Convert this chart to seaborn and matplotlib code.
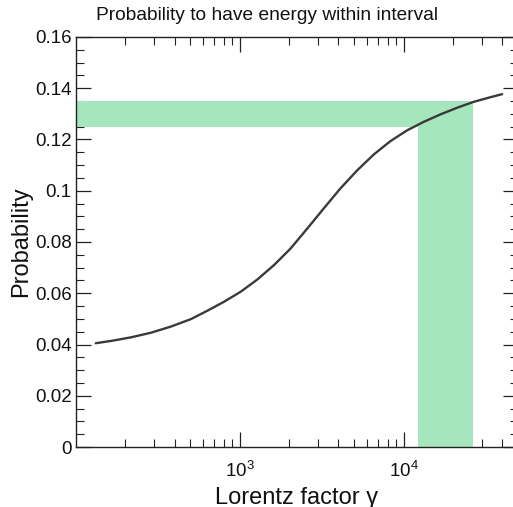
import numpy as np
import pandas as pd
import matplotlib
matplotlib.use("Agg")
import matplotlib.pyplot as plt
import seaborn as sns
from matplotlib.ticker import FixedLocator, MultipleLocator, LogLocator, NullFormatter

# ---- data ----
gamma = [132, 164, 217, 287, 380, 503, 635, 802, 1014, 1282, 1619, 2046,
         2587, 3266, 4129, 5220, 6592, 8331, 10534, 13300, 16810, 21260,
         26840, 33930, 39980]
prob = [0.0405, 0.0414, 0.0428, 0.0446, 0.0470, 0.0499, 0.0532, 0.0567,
        0.0606, 0.0654, 0.0710, 0.0775, 0.0853, 0.0932, 0.1010, 0.1080,
        0.1142, 0.1194, 0.1236, 0.1269, 0.1298, 0.1324, 0.1347, 0.1365,
        0.1377]
interval_gamma = [12200, 26500]      # vertical band (x range)
interval_prob = [0.125, 0.135]       # horizontal band (y range)
x_major = [1e3, 1e4]
x_major_labels = ["$10^{3}$", "$10^{4}$"]
y_major = [0, 0.02, 0.04, 0.06, 0.08, 0.1, 0.12, 0.14, 0.16]
y_major_labels = ["0", "0.02", "0.04", "0.06", "0.08", "0.1", "0.12", "0.14", "0.16"]

sns.set_theme(style="ticks")
plt.rcParams["font.family"] = ["Liberation Sans", "DejaVu Sans"]
plt.rcParams["mathtext.default"] = "regular"

fig = plt.figure(figsize=(5.13, 5.07), dpi=100)
fig.patch.set_facecolor("white")
ax = fig.add_axes([76 / 513, 60 / 507, 442 / 513, 410 / 507])
ax.set_facecolor("white")

band_color = "#a5e6bd"
xlim = (100, 5e4)
# horizontal band from the left edge to the end of the interval
ax.fill_between([xlim[0], interval_gamma[1]], interval_prob[0], interval_prob[1],
                color=band_color, linewidth=0, zorder=1)
# vertical band from 0 up to the top of the interval
ax.fill_between(interval_gamma, 0, interval_prob[1],
                color=band_color, linewidth=0, zorder=1)

df = pd.DataFrame({"gamma": gamma, "prob": prob})
sns.lineplot(data=df, x="gamma", y="prob", ax=ax, color="#3a3a3a",
             linewidth=1.7, zorder=3)

ax.set_xscale("log")
ax.set_xlim(*xlim)
ax.set_ylim(0, 0.16)

ax.xaxis.set_major_locator(FixedLocator(x_major))
ax.set_xticklabels(x_major_labels)
ax.xaxis.set_minor_locator(LogLocator(base=10, subs=np.arange(2, 10)))
ax.xaxis.set_minor_formatter(NullFormatter())
ax.yaxis.set_major_locator(FixedLocator(y_major))
ax.set_yticklabels(y_major_labels)
ax.yaxis.set_minor_locator(MultipleLocator(0.005))

ax.tick_params(which="both", direction="in", top=True, right=True,
               colors="#222222", labelcolor="#111111")
ax.tick_params(which="major", length=11, width=0.9)
ax.tick_params(which="minor", length=6, width=0.8)
ax.tick_params(axis="y", which="major", labelsize=13.5, pad=3)
ax.tick_params(axis="x", which="major", labelsize=13.5, pad=10)

for s in ax.spines.values():
    s.set_color("#222222")
    s.set_linewidth(1.0)

ax.set_xlabel("Lorentz factor γ", fontsize=17, labelpad=4, color="#111111")
ax.set_ylabel("Probability", fontsize=17, labelpad=2, color="#111111")
fig.text(267 / 513, 1 - 15 / 507, "Probability to have energy within interval",
         ha="center", va="center", fontsize=13.8, color="#111111")

fig.savefig("out.png", dpi=100, facecolor="white")
